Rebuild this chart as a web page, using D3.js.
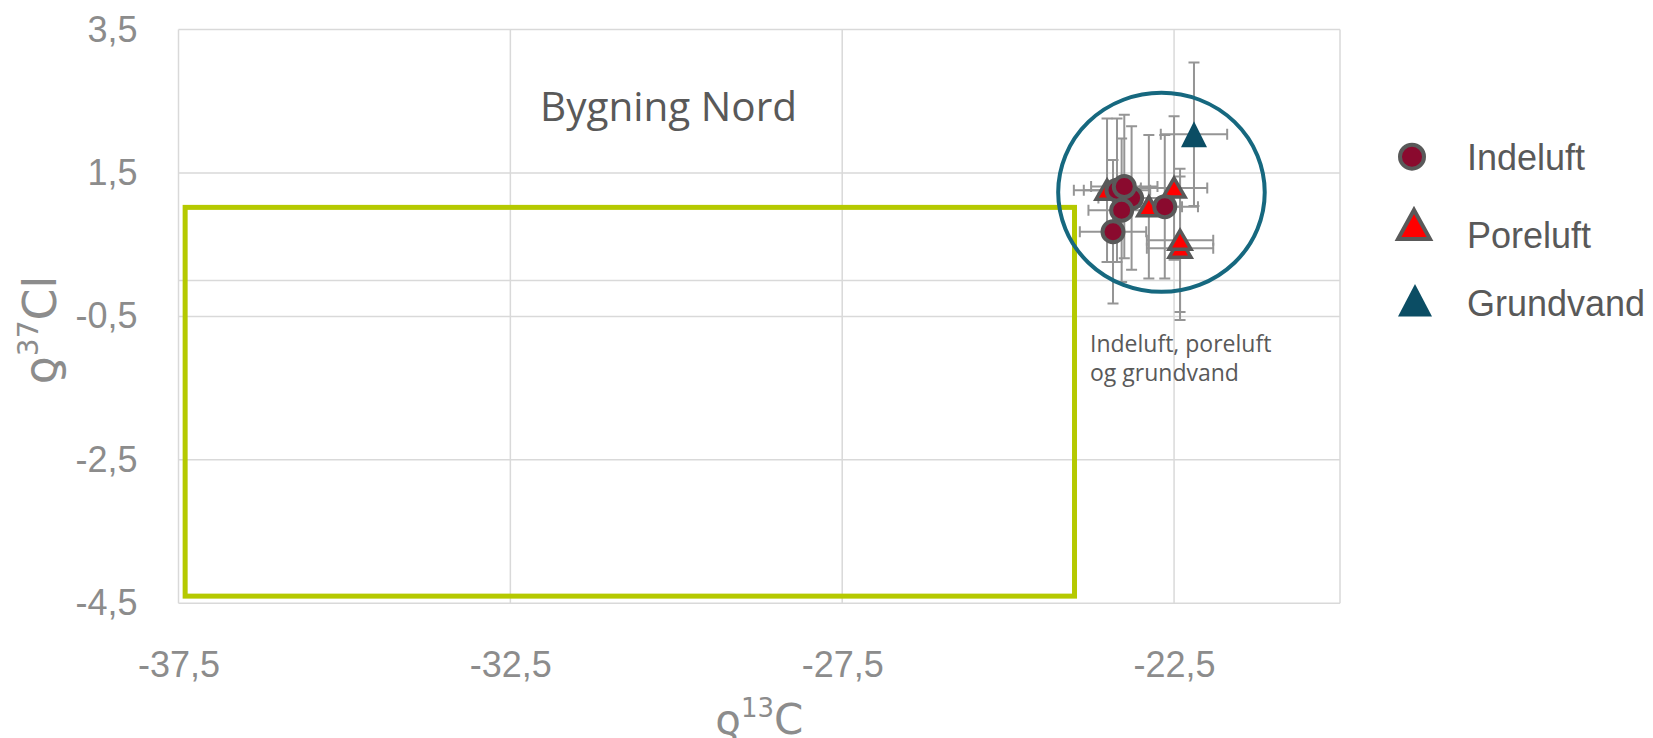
<!DOCTYPE html>
<html>
<head>
<meta charset="utf-8">
<script src="https://cdn.jsdelivr.net/npm/d3@7"></script>
<style>
  body { margin: 0; background: #fff; }
  svg { display: block; }
</style>
</head>
<body>
<script>
(function (d3) {
  'use strict';

  // ---- data ----
  const xTicks = [-37.5, -32.5, -27.5, -22.5];
  const yTicks = [3.5, 1.5, -0.5, -2.5, -4.5];

  const series = ["Indeluft", "Poreluft", "Grundvand"];

  const indeluftX = [-23.36, -23.14, -23.29, -23.25, -23.42, -22.64];
  const indeluftY = [1.26, 1.15, 0.98, 1.31, 0.68, 1.03];

  // lower one first so the upper triangle sits on top
  const poreluftX = [-23.51, -22.88, -22.50, -22.41, -22.41];
  const poreluftY = [1.26, 1.03, 1.29, 0.45, 0.56];

  const grundvandX = [-22.20];
  const grundvandY = [2.04];

  // error bar half widths per series (d13C, d37Cl)
  const xErr = [0.5, 0.5, 0.5];
  const yErr = [1.0, 1.0, 1.0];

  // green reference box and the ring round the samples, in data units
  const boxX = [-37.4, -24.0];
  const boxY = [-4.4, 1.02];
  const ringCenter = [-22.69, 1.23];
  const ringRadius = [1.556, 1.388];

  const W = 1653, H = 738;
  const plot = {left: 178.5, right: 1340, top: 29.5, bottom: 603.3};

  const svg = d3.select("body").append("svg")
    .attr("width", W).attr("height", H);

  const x = d3.scaleLinear().domain([-37.5, -20]).range([plot.left, plot.right]);
  const y = d3.scaleLinear().domain([-4.5, 3.5]).range([plot.bottom, plot.top]);

  const fmt = d3.formatLocale({decimal: ",", thousands: ".", grouping: [3], currency: ["", ""], minus: "-"}).format(".1f");

  const gridColor = "#d9d9d9";
  const tickColor = "#8c8c8c";

  // grid
  const grid = svg.append("g");
  grid.selectAll("line.h").data(yTicks.concat([0])).join("line")
    .attr("x1", plot.left).attr("x2", plot.right)
    .attr("y1", d => y(d)).attr("y2", d => y(d))
    .attr("stroke", gridColor).attr("stroke-width", 1.5);
  grid.selectAll("line.v").data(xTicks.concat([-20])).join("line")
    .attr("x1", d => x(d)).attr("x2", d => x(d))
    .attr("y1", plot.top).attr("y2", plot.bottom)
    .attr("stroke", gridColor).attr("stroke-width", 1.5);

  // axes (labels only)
  const yAxis = svg.append("g")
    .attr("transform", `translate(${plot.left},0)`)
    .call(d3.axisLeft(y).tickValues(yTicks).tickSize(0).tickPadding(41).tickFormat(fmt));
  const xAxis = svg.append("g")
    .attr("transform", `translate(0,${plot.bottom})`)
    .call(d3.axisBottom(x).tickValues(xTicks).tickSize(0).tickPadding(48).tickFormat(fmt));
  [yAxis, xAxis].forEach(g => {
    g.select(".domain").remove();
    g.selectAll("text")
      .attr("fill", tickColor)
      .style("font-family", "'Liberation Sans', Arial, sans-serif")
      .style("font-size", "36px");
  });

  // axis titles
  const titleFont = "'DejaVu Sans', 'Liberation Sans', sans-serif";
  const xt = svg.append("text")
    .attr("x", (plot.left + plot.right) / 2).attr("y", 734)
    .attr("text-anchor", "middle")
    .attr("fill", tickColor)
    .style("font-family", titleFont).style("font-size", "42px");
  xt.append("tspan").text("ƍ");
  xt.append("tspan").attr("dy", -17).style("font-size", "26px").text("13");
  xt.append("tspan").attr("dy", 17).text("C");

  const yt = svg.append("text")
    .attr("transform", "translate(56,330) rotate(-90)")
    .attr("text-anchor", "middle")
    .attr("fill", tickColor)
    .style("font-family", titleFont).style("font-size", "46px");
  yt.append("tspan").text("ƍ");
  yt.append("tspan").attr("dy", -18).style("font-size", "28px").text("37");
  yt.append("tspan").attr("dy", 18).text("Cl");

  // green box
  svg.append("rect")
    .attr("x", x(boxX[0])).attr("y", y(boxY[1]))
    .attr("width", x(boxX[1]) - x(boxX[0]))
    .attr("height", y(boxY[0]) - y(boxY[1]))
    .attr("fill", "none").attr("stroke", "#b5c900").attr("stroke-width", 5);

  // title inside plot
  svg.append("text")
    .attr("x", 540).attr("y", 121)
    .attr("fill", "#595959")
    .style("font-family", "'Open Sans', sans-serif").style("font-size", "40.5px")
    .text("Bygning Nord");

  // annotation under the ring
  const note = svg.append("text")
    .attr("fill", "#595959")
    .style("font-family", "'Open Sans', sans-serif").style("font-size", "23px");
  note.append("tspan").attr("x", 1090).attr("y", 352).text("Indeluft, poreluft");
  note.append("tspan").attr("x", 1090).attr("y", 381).text("og grundvand");

  // points
  const pts = [
    d3.zip(indeluftX, indeluftY).map(([a, b]) => ({s: 0, x: a, y: b})),
    d3.zip(poreluftX, poreluftY).map(([a, b]) => ({s: 1, x: a, y: b})),
    d3.zip(grundvandX, grundvandY).map(([a, b]) => ({s: 2, x: a, y: b}))
  ];
  const all = pts.flat();

  // error bars
  const cap = 5.5;
  const eb = svg.append("g").attr("stroke", "#959595").attr("stroke-width", 2).attr("fill", "none");
  eb.selectAll("path").data(all).join("path")
    .attr("d", d => {
      const p = d3.path();
      const x0 = x(d.x - xErr[d.s]), x1 = x(d.x + xErr[d.s]);
      const y0 = y(d.y - yErr[d.s]), y1 = y(d.y + yErr[d.s]);
      const cx = x(d.x), cy = y(d.y);
      p.moveTo(x0, cy); p.lineTo(x1, cy);
      p.moveTo(x0, cy - cap); p.lineTo(x0, cy + cap);
      p.moveTo(x1, cy - cap); p.lineTo(x1, cy + cap);
      p.moveTo(cx, y0); p.lineTo(cx, y1);
      p.moveTo(cx - cap, y0); p.lineTo(cx + cap, y0);
      p.moveTo(cx - cap, y1); p.lineTo(cx + cap, y1);
      return p.toString();
    });

  function tri(hw, top, bottom) {
    const p = d3.path();
    p.moveTo(0, -top); p.lineTo(hw, bottom); p.lineTo(-hw, bottom); p.closePath();
    return p.toString();
  }

  const marks = svg.append("g");
  marks.selectAll("path.pore").data(pts[1]).join("path")
    .attr("class", "pore")
    .attr("d", tri(11, 10, 9))
    .attr("transform", d => `translate(${x(d.x)},${y(d.y)})`)
    .attr("fill", "#ff0000").attr("stroke", "#595959").attr("stroke-width", 3.5);
  marks.selectAll("circle").data(pts[0]).join("circle")
    .attr("cx", d => x(d.x)).attr("cy", d => y(d.y)).attr("r", 10.5)
    .attr("fill", "#8a0a2e").attr("stroke", "#595959").attr("stroke-width", 4);
  marks.selectAll("path.grund").data(pts[2]).join("path")
    .attr("class", "grund")
    .attr("d", tri(13, 13, 13))
    .attr("transform", d => `translate(${x(d.x)},${y(d.y)})`)
    .attr("fill", "#0b4d64");

  // ring
  svg.append("ellipse")
    .attr("cx", x(ringCenter[0])).attr("cy", y(ringCenter[1]))
    .attr("rx", x(ringCenter[0] + ringRadius[0]) - x(ringCenter[0]))
    .attr("ry", y(ringCenter[1] - ringRadius[1]) - y(ringCenter[1]))
    .attr("fill", "none").attr("stroke", "#16687f").attr("stroke-width", 4);

  // legend
  const legY = [156.7, 225, 300.5];
  const legTextY = [170, 248, 316];
  const leg = svg.append("g");
  leg.append("circle").attr("cx", 1412).attr("cy", legY[0]).attr("r", 12)
    .attr("fill", "#8a0a2e").attr("stroke", "#595959").attr("stroke-width", 4);
  leg.append("path").attr("d", tri(16, 15, 14))
    .attr("transform", `translate(1414,${legY[1]})`)
    .attr("fill", "#ff0000").attr("stroke", "#595959").attr("stroke-width", 4);
  leg.append("path").attr("d", tri(17, 16.5, 16))
    .attr("transform", `translate(1415,${legY[2]})`)
    .attr("fill", "#0b4d64");
  leg.selectAll("text").data(series).join("text")
    .attr("x", 1467).attr("y", (d, i) => legTextY[i])
    .attr("fill", "#595959")
    .style("font-family", "'Liberation Sans', Arial, sans-serif").style("font-size", "36px")
    .text(d => d);

}(d3));
</script>
</body>
</html>
